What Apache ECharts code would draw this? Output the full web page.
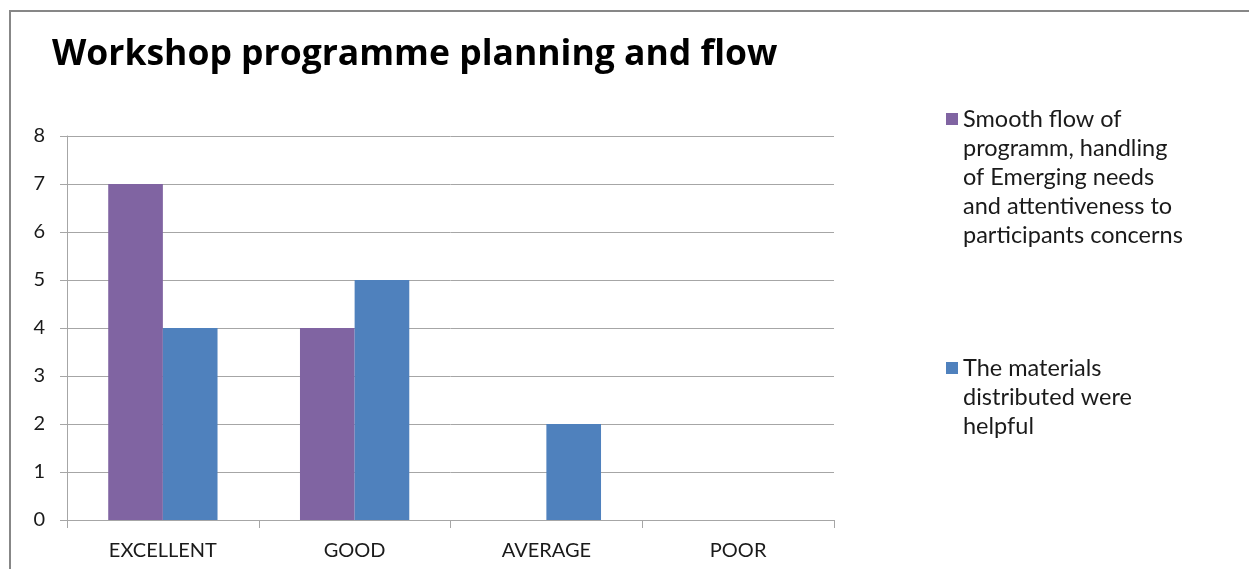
<!DOCTYPE html>
<html>
<head>
<meta charset="utf-8">
<script src="https://cdn.jsdelivr.net/npm/echarts@6/dist/echarts.min.js"></script>
<style>
  html, body { margin: 0; padding: 0; background: #ffffff; overflow: hidden; }
  #chart { width: 1249px; height: 569px; }
</style>
</head>
<body>
<div id="chart"></div>
<script>
// ---- data ----
const titleText = 'Workshop programme planning and flow';
const categories = ['EXCELLENT', 'GOOD', 'AVERAGE', 'POOR'];
const seriesNames = [
  'Smooth flow of programm, handling of Emerging needs and attentiveness to participants concerns',
  'The materials distributed were helpful'
];
// legend text broken into the lines shown beside each swatch
const legendLines = [
  ['Smooth flow of', 'programm, handling', 'of Emerging needs', 'and attentiveness to', 'participants concerns'],
  ['The materials', 'distributed were', 'helpful']
];
const smoothFlowValues = [7, 4, 0, 0];
const materialsValues = [4, 5, 2, 0];
const yAxisMin = 0;
const yAxisMax = 8;
const yAxisStep = 1;

// ---- style ----
const FONT = 'Lato';
const TITLE_FONT = 'Open Sans';
const GRID_COLOR = '#a6a6a6';
const TEXT_COLOR = '#1a1a1a';
const COLORS = ['#8064A2', '#4F81BD'];
const LEGEND_FONT = 23.5;
const LEGEND_LINE = 29;
const SWATCH = 12;

// One legend per series. The label is centred on its swatch, so blank lines
// are put in front of it to bring the first real line level with the swatch.
function wrappedLegend(idx, left, swatchCenterY) {
  const lines = legendLines[idx];
  const n = lines.length;
  const boxH = (2 * n - 1) * LEGEND_LINE;
  const textTop = SWATCH / 2 - boxH / 2;
  const blanks = new Array(n - 1).fill('');
  return {
    data: [seriesNames[idx]],
    orient: 'vertical',
    left: left,
    top: swatchCenterY - SWATCH / 2 + textTop,
    padding: 0,
    itemWidth: SWATCH,
    itemHeight: SWATCH,
    itemGap: 0,
    icon: 'rect',
    selectedMode: false,
    formatter: function () { return blanks.concat(lines).join('\n'); },
    textStyle: {
      fontFamily: FONT,
      fontSize: LEGEND_FONT,
      lineHeight: LEGEND_LINE,
      color: TEXT_COLOR
    }
  };
}

const chart = echarts.init(document.getElementById('chart'), null, { renderer: 'canvas' });

chart.setOption({
  animation: false,
  backgroundColor: '#ffffff',
  color: COLORS,
  title: {
    text: titleText,
    left: 52,
    top: 37,
    padding: 0,
    textStyle: { fontFamily: TITLE_FONT, fontWeight: 'bold', fontSize: 35.5, color: '#000000' }
  },
  legend: [
    wrappedLegend(0, 946, 119),
    wrappedLegend(1, 946, 368)
  ],
  // outer frame of the chart area: only its left and top edges fall inside the page
  graphic: [
    {
      type: 'line',
      shape: { x1: 10, y1: 10, x2: 10, y2: 580 },
      style: { stroke: '#878787', lineWidth: 2 },
      silent: true,
      z: 100
    },
    {
      type: 'line',
      shape: { x1: 9, y1: 11, x2: 1260, y2: 11 },
      style: { stroke: '#878787', lineWidth: 2 },
      silent: true,
      z: 100
    }
  ],
  grid: { left: 67, right: 415, top: 136, bottom: 49, containLabel: false },
  xAxis: {
    type: 'category',
    data: categories,
    boundaryGap: true,
    axisLine: { show: true, lineStyle: { color: GRID_COLOR, width: 1 } },
    axisTick: { show: true, length: 8, interval: 0, alignWithLabel: false, lineStyle: { color: GRID_COLOR } },
    axisLabel: { margin: 21, interval: 0, fontFamily: FONT, fontSize: 20, color: TEXT_COLOR },
    splitLine: { show: false }
  },
  yAxis: {
    type: 'value',
    min: yAxisMin,
    max: yAxisMax,
    interval: yAxisStep,
    axisLine: { show: true, lineStyle: { color: GRID_COLOR, width: 1 } },
    axisTick: { show: true, length: 7, lineStyle: { color: GRID_COLOR } },
    axisLabel: { margin: 22, fontFamily: FONT, fontSize: 20, color: TEXT_COLOR },
    splitLine: { show: true, lineStyle: { color: GRID_COLOR, width: 1 } }
  },
  series: [
    {
      name: seriesNames[0],
      type: 'bar',
      data: smoothFlowValues,
      barGap: '0%',
      barCategoryGap: '43%',
      itemStyle: { color: COLORS[0] }
    },
    {
      name: seriesNames[1],
      type: 'bar',
      data: materialsValues,
      barGap: '0%',
      barCategoryGap: '43%',
      itemStyle: { color: COLORS[1] }
    }
  ]
});
</script>
</body>
</html>
